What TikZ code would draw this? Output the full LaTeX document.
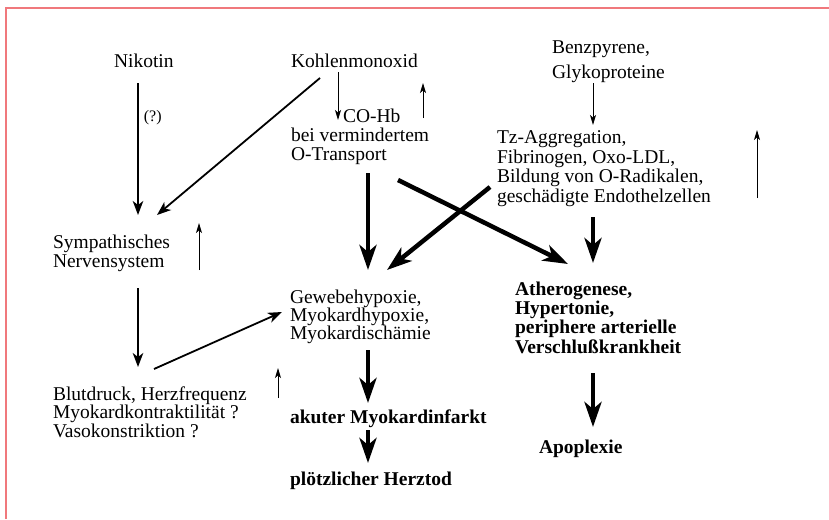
\documentclass[tikz,border=0pt]{standalone}
\usepackage{fontspec}
\setmainfont{Liberation Serif}
\usetikzlibrary{arrows.meta}
\definecolor{framered}{RGB}{240,120,124}
\tikzset{
  txt/.style={anchor=base west, inner sep=0pt, outer sep=0pt, align=left,
    font=\fontsize{19.5}{19}\selectfont},
  bold txt/.style={txt, font=\fontsize{19.5}{19.3}\selectfont\bfseries},
  thin arrow/.style={line width=1pt, -{Stealth[length=10pt,width=6pt,inset=2.5pt]}},
  med arrow/.style={line width=1.8pt, -{Stealth[length=14pt,width=10.5pt,inset=4pt]}},
  thick arrow/.style={line width=4.5pt, -{Stealth[length=25pt,width=17pt,inset=7pt]}}
}
\begin{document}
\begin{tikzpicture}[x=1pt,y=-1pt]
  \useasboundingbox (0,0) rectangle (829,519);
  % frame
  \draw[framered, line width=2pt] (6,519) -- (6,8.5) -- (829,8.5);
  % texts (placed at the baseline of their last line)
  \node[txt] (nikotin) at (114,67) {Nikotin};
  \node[txt] (komonox) at (291,67) {Kohlenmonoxid};
  \node[txt] (benz) at (552,78) {Benzpyrene,\\[5.5pt]Glykoproteine};
  \node[txt] (cohb) at (291,160) {\hspace*{52pt}CO-Hb\\bei vermindertem\\O-Transport};
  \node[txt, font=\fontsize{19.5}{19.5}\selectfont] (tz) at (497,202) {Tz-Aggregation,\\Fibrinogen, Oxo-LDL,\\Bildung von O-Radikalen,\\geschädigte Endothelzellen};
  \node[txt] (symp) at (53,267) {Sympathisches\\Nervensystem};
  \node[txt, font=\fontsize{19.5}{18}\selectfont] (gewebe) at (290,339) {Gewebehypoxie,\\Myokardhypoxie,\\Myokardischämie};
  \node[bold txt] (athero) at (515,353) {Atherogenese,\\Hypertonie,\\periphere arterielle\\Verschlußkrankheit};
  \node[txt, font=\fontsize{19.5}{18.5}\selectfont] (blut) at (53,437) {Blutdruck, Herzfrequenz\\Myokardkontraktilität ?\\Vasokonstriktion ?};
  \node[bold txt] (infarkt) at (290,423) {akuter Myokardinfarkt};
  \node[bold txt] (herztod) at (290,485) {plötzlicher Herztod};
  \node[bold txt] (apoplex) at (539,453) {Apoplexie};
  % connectors
  \draw[med arrow] ([shift={(24,16)}]nikotin.base west) -- ([shift={(85,-52)}]symp.base west)
    node[pos=0.26, right=5pt, inner sep=0pt, font=\fontsize{16}{16}\selectfont] (frage) {(?)};
  \draw[med arrow] ([shift={(29,11)}]komonox.base west) -- ([shift={(104,-52)}]symp.base west);
  \draw[thin arrow] ([shift={(47,5)}]komonox.base west) -- ([shift={(47,-40)}]cohb.base west);
  \draw[thin arrow] ([shift={(41,5)}]benz.base west) -- ([shift={(96,-77)}]tz.base west);
  \draw[thick arrow] ([shift={(77,13)}]cohb.base west) -- ([shift={(78,-69)}]gewebe.base west);
  \draw[thick arrow] ([shift={(107,20)}]cohb.base west) -- ([shift={(53,-89)}]athero.base west);
  \draw[thick arrow] ([shift={(-7,-15)}]tz.base west) -- ([shift={(97,-69)}]gewebe.base west);
  \draw[thick arrow] ([shift={(96,15)}]tz.base west) -- ([shift={(78,-90)}]athero.base west);
  \draw[med arrow] ([shift={(85,21)}]symp.base west) -- ([shift={(85,-70)}]blut.base west);
  \draw[med arrow] ([shift={(101,-68)}]blut.base west) -- ([shift={(-8,-27)}]gewebe.base west);
  \draw[thick arrow] ([shift={(78,11)}]gewebe.base west) -- ([shift={(78,-20)}]infarkt.base west);
  \draw[thick arrow] ([shift={(78,7)}]infarkt.base west) -- ([shift={(78,-22)}]herztod.base west);
  \draw[thick arrow] ([shift={(78,20)}]athero.base west) -- ([shift={(54,-26)}]apoplex.base west);
  % increase marks
  \coordinate (up co a) at (423,118);   \coordinate (up co b) at (423,83);
  \coordinate (up sy a) at (199,270);   \coordinate (up sy b) at (199,223);
  \coordinate (up bl a) at (278,398);   \coordinate (up bl b) at (278,368);
  \coordinate (up tz a) at (757,198);   \coordinate (up tz b) at (757,130);
  \foreach \m in {co,sy,bl,tz}
    \draw[thin arrow] (up \m\space a) -- (up \m\space b);
\end{tikzpicture}
\end{document}
